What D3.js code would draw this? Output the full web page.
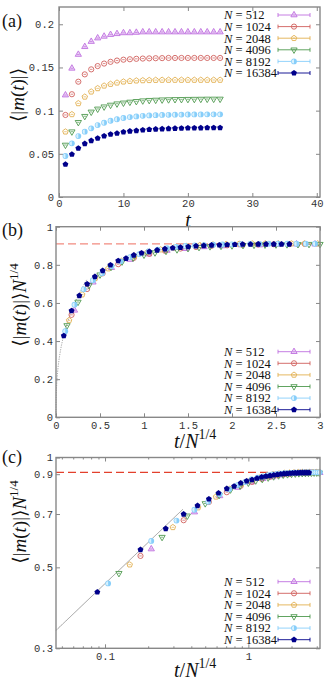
<!DOCTYPE html>
<html>
<head>
<meta charset="utf-8">
<script src="https://cdn.jsdelivr.net/npm/d3@7"></script>
<style>
  body { margin: 0; background: #fff; }
  .tick text { font-family: "Liberation Mono", "DejaVu Sans Mono", monospace; font-size: 10.5px; fill: #333; }
  .serif { font-family: "Liberation Serif", "DejaVu Serif", serif; fill: #111; }
</style>
</head>
<body>
<svg id="chart" width="332" height="687"></svg>
<script>
// ---- data ----
// system sizes and time steps
var sizes = [512, 1024, 2048, 4096, 8192, 16384];
var timeSteps = [1, 2, 3, 4, 5, 6, 7, 8, 9, 10, 11, 12, 13, 14, 15,
                 16, 17, 18, 19, 20, 21, 22, 23, 24, 25, 26, 27, 28, 29, 30];
var lastStepA = 25; // panel (a) only shows t <= 25

// <|m(t)|> for each N, t = 1..30
var m512   = [0.118, 0.149, 0.165, 0.174, 0.180, 0.184, 0.186, 0.188, 0.189, 0.190,
              0.190, 0.1905, 0.191, 0.191, 0.191, 0.191, 0.191, 0.191, 0.191, 0.191,
              0.191, 0.191, 0.191, 0.191, 0.191, 0.191, 0.191, 0.191, 0.191, 0.191];
var m1024  = [0.095, 0.119, 0.1335, 0.142, 0.1478, 0.1516, 0.1545, 0.1565, 0.158, 0.159,
              0.1595, 0.160, 0.1603, 0.1605, 0.1607, 0.1608, 0.161, 0.161, 0.161, 0.161,
              0.161, 0.161, 0.161, 0.161, 0.161, 0.161, 0.161, 0.161, 0.161, 0.161];
var m2048  = [0.0756, 0.0957, 0.1084, 0.116, 0.1219, 0.1258, 0.1288, 0.1308, 0.1323, 0.1335,
              0.1342, 0.1347, 0.135, 0.1352, 0.1354, 0.1355, 0.1355, 0.1355, 0.1355, 0.1355,
              0.1355, 0.1355, 0.1355, 0.1355, 0.1355, 0.1355, 0.1355, 0.1355, 0.1355, 0.1355];
var m4096  = [0.0602, 0.0756, 0.0865, 0.0935, 0.0985, 0.102, 0.1045, 0.1065, 0.108, 0.109,
              0.110, 0.1108, 0.1115, 0.112, 0.1123, 0.1126, 0.1128, 0.113, 0.1131, 0.1132,
              0.1133, 0.1134, 0.1135, 0.1135, 0.1135, 0.1135, 0.1135, 0.1135, 0.1135, 0.1135];
var m8192  = [0.0475, 0.0621, 0.0706, 0.0756, 0.0795, 0.0833, 0.086, 0.0883, 0.090, 0.0915,
              0.0925, 0.0933, 0.094, 0.0945, 0.0948, 0.095, 0.0952, 0.0953, 0.0954, 0.0955,
              0.0956, 0.0956, 0.0957, 0.0957, 0.0957, 0.0957, 0.0957, 0.0957, 0.0957, 0.0957];
var m16384 = [0.0378, 0.0494, 0.0564, 0.0618, 0.0652, 0.068, 0.0706, 0.0726, 0.0737, 0.0752,
              0.0762, 0.0768, 0.0775, 0.0781, 0.0785, 0.0788, 0.0791, 0.0794, 0.0796, 0.0798,
              0.0799, 0.080, 0.0801, 0.0802, 0.0802, 0.0803, 0.0803, 0.0803, 0.0803, 0.0803];
var mSeries = [m512, m1024, m2048, m4096, m8192, m16384];

// plateau value and short-time power-law fit
var plateau = 0.91;
var fitAmp = 1.07, fitExp = 0.375, fitEnd = 0.35;

// tick values
var xTicksA = [0, 10, 20, 30, 40];
var yTicksA = [0, 0.05, 0.1, 0.15, 0.2];
var xTicksB = [0, 0.5, 1, 1.5, 2, 2.5, 3];
var yTicksB = [0, 0.2, 0.4, 0.6, 0.8, 1];
var xTicksC = [0.1, 1];
var xMinorC = [0.05, 0.06, 0.07, 0.08, 0.09, 0.2, 0.3, 0.4, 0.5, 0.6, 0.7, 0.8, 0.9, 2, 3];
var yTicksC = [0.3, 0.5, 0.7, 0.9, 1];

// ---- styles ----
var colors = ["#c070e0", "#d0605c", "#e2b050", "#4f9a4f", "#87cefa", "#00008b"];
var shapes = ["triUp", "circle", "pentagon", "triDown", "halfCircle", "pentagonFill"];
var frameColor = "#888";

var svg = d3.select("#chart");

// one list of points per N: x = t, y = <|m|>
var series = sizes.map(function (n, i) {
    var q = Math.pow(n, 0.25);
    return timeSteps.map(function (t, j) {
        return { t: t, m: mSeries[i][j], q: q };
    });
});

function pentagonPath(r) {
    var pts = d3.range(5).map(function (k) {
        var a = -Math.PI / 2 + k * 2 * Math.PI / 5;
        return [r * Math.cos(a), r * Math.sin(a)];
    });
    return "M" + pts.join("L") + "Z";
}

// draw one marker centred on (0,0) into group g
function drawMarker(g, i) {
    var c = colors[i];
    var kind = shapes[i];
    if (kind === "triUp" || kind === "triDown") {
        g.append("path")
            .attr("d", d3.symbol(d3.symbolTriangle, 17)())
            .attr("transform", kind === "triDown" ? "rotate(180)" : null)
            .attr("fill", kind === "triUp" ? "#ecd4f6" : "none")
            .attr("stroke", c).attr("stroke-width", 0.9);
    } else if (kind === "circle") {
        g.append("circle").attr("r", 2.6)
            .attr("fill", "none").attr("stroke", c).attr("stroke-width", 0.9);
    } else if (kind === "pentagon") {
        g.append("path").attr("d", pentagonPath(2.9))
            .attr("fill", "none").attr("stroke", c).attr("stroke-width", 0.9);
    } else if (kind === "halfCircle") {
        g.append("circle").attr("r", 2.9).attr("fill", c);
        g.append("path").attr("d", "M0,-2.2A2.2,2.2 0 0 0 0,2.2Z").attr("fill", "#d8f1fd");
    } else {
        g.append("path").attr("d", pentagonPath(3.1)).attr("fill", c);
    }
    // tiny error-bar cap
    if (kind !== "pentagonFill" && kind !== "halfCircle") {
        g.append("line").attr("x1", -1.3).attr("x2", 1.3)
            .attr("stroke", c).attr("stroke-width", 0.7);
    }
}

function drawPanel(p) {
    var g = svg.append("g");
    var x = p.x, y = p.y;
    var x0 = x.range()[0], x1 = x.range()[1], y0 = y.range()[0], y1 = y.range()[1];

    // axes with inward ticks on all four sides
    function fmt(d) { return d3.format("~g")(d); }
    g.append("g").attr("transform", "translate(0," + y0 + ")")
        .call(d3.axisBottom(x).tickValues(p.xTicks).tickSize(-4).tickPadding(p.xPad).tickFormat(fmt));
    g.append("g").attr("transform", "translate(0," + y1 + ")")
        .call(d3.axisTop(x).tickValues(p.xTicks).tickSize(-4).tickFormat(""));
    g.append("g").attr("transform", "translate(" + x0 + ",0)")
        .call(d3.axisLeft(y).tickValues(p.yTicks).tickSize(-4).tickPadding(p.yPad).tickFormat(fmt));
    g.append("g").attr("transform", "translate(" + x1 + ",0)")
        .call(d3.axisRight(y).tickValues(p.yTicks).tickSize(-4).tickFormat(""));
    if (p.xMinor) {
        g.append("g").attr("transform", "translate(0," + y0 + ")")
            .call(d3.axisBottom(x).tickValues(p.xMinor).tickSize(-2).tickFormat(""));
        g.append("g").attr("transform", "translate(0," + y1 + ")")
            .call(d3.axisTop(x).tickValues(p.xMinor).tickSize(-2).tickFormat(""));
    }
    g.selectAll(".domain").remove();
    g.selectAll(".tick line").attr("stroke", frameColor);

    // plateau line
    if (p.plateau) {
        g.append("line")
            .attr("x1", x0).attr("x2", x1)
            .attr("y1", y(plateau)).attr("y2", y(plateau))
            .attr("stroke", p.plateauColor).attr("stroke-width", 1.3)
            .attr("stroke-dasharray", "8,4");
    }

    // power-law fit
    if (p.fit) {
        var xs = d3.range(0, 201).map(function (k) {
            var lo = x.domain()[0];
            return lo + (fitEnd - lo) * Math.pow(k / 200, 2);
        });
        g.append("path")
            .datum(xs)
            .attr("d", d3.line()
                .x(function (d) { return x(d); })
                .y(function (d) { return y(fitAmp * Math.pow(d, fitExp)); }))
            .attr("fill", "none")
            .attr("stroke", "#777").attr("stroke-width", 0.7)
            .attr("stroke-dasharray", p.fitDash);
    }

    // data markers
    series.forEach(function (pts, i) {
        var vis = pts.filter(p.keep);
        g.append("g").selectAll("g")
            .data(vis)
            .join("g")
            .attr("transform", function (d) { return "translate(" + x(p.px(d)) + "," + y(p.py(d)) + ")"; })
            .each(function () { drawMarker(d3.select(this), i); });
    });

    // frame
    g.append("rect")
        .attr("x", x0).attr("y", y1)
        .attr("width", x1 - x0).attr("height", y0 - y1)
        .attr("fill", "none").attr("stroke", frameColor).attr("stroke-width", 1.4);

    // legend
    sizes.forEach(function (n, i) {
        var ly = p.legendY + i * 11.6;
        var t = g.append("text").attr("class", "serif")
            .attr("x", 224).attr("y", ly).attr("dy", "0.35em")
            .style("font-size", "12.5px");
        t.append("tspan").style("font-style", "italic").text("N");
        t.append("tspan").text(" = " + n);
        var lg = g.append("g").attr("stroke", colors[i]).attr("stroke-width", 0.9);
        lg.append("line").attr("x1", 278).attr("x2", 310).attr("y1", ly).attr("y2", ly);
        lg.append("line").attr("x1", 278).attr("x2", 278).attr("y1", ly - 2).attr("y2", ly + 2);
        lg.append("line").attr("x1", 310).attr("x2", 310).attr("y1", ly - 2).attr("y2", ly + 2);
        var mg = g.append("g").attr("transform", "translate(294," + ly + ")");
        drawMarker(mg, i);
    });

    // panel label
    svg.append("text").attr("class", "serif")
        .attr("x", 2).attr("y", p.labelY)
        .style("font-size", "18px").text(p.label);
}

function yTitle(xPos, yPos, scaled) {
    var t = svg.append("text").attr("class", "serif")
        .attr("transform", "translate(" + xPos + "," + yPos + ") rotate(-90)")
        .attr("text-anchor", "middle")
        .style("font-size", "19px");
    t.append("tspan").text("\u27E8|");
    t.append("tspan").style("font-style", "italic").text("m");
    t.append("tspan").text("(");
    t.append("tspan").style("font-style", "italic").text("t");
    t.append("tspan").text(")|\u27E9");
    if (scaled) {
        t.append("tspan").style("font-style", "italic").text("N");
        t.append("tspan").attr("dy", -8).style("font-size", "13px").text("1/4");
    }
}

function xTitleScaled(xPos, yPos) {
    var t = svg.append("text").attr("class", "serif")
        .attr("x", xPos).attr("y", yPos)
        .style("font-size", "20px");
    t.append("tspan").style("font-style", "italic").text("t");
    t.append("tspan").text("/");
    t.append("tspan").style("font-style", "italic").text("N");
    t.append("tspan").attr("dy", -9).style("font-size", "14px").text("1/4");
}

// ---- panel (a) ----
drawPanel({
    x: d3.scaleLinear().domain([0, 40.5]).range([59, 320]),
    y: d3.scaleLinear().domain([0, 0.22]).range([197, 7]),
    xTicks: xTicksA, yTicks: yTicksA, xPad: 3, yPad: 5,
    keep: function (d) { return d.t <= lastStepA; },
    px: function (d) { return d.t; },
    py: function (d) { return d.m; },
    legendY: 15, label: "(a)", labelY: 27
});
yTitle(24, 95, false);
svg.append("text").attr("class", "serif")
    .attr("x", 188).attr("y", 227).attr("text-anchor", "middle")
    .style("font-size", "20px").style("font-style", "italic").text("t");

// ---- panel (b) ----
drawPanel({
    x: d3.scaleLinear().domain([0, 3]).range([56, 320]),
    y: d3.scaleLinear().domain([0, 1]).range([417.3, 226.7]),
    xTicks: xTicksB, yTicks: yTicksB, xPad: 4, yPad: 3,
    keep: function (d) { return d.t / d.q <= 3.001; },
    px: function (d) { return d.t / d.q; },
    py: function (d) { return d.m * d.q; },
    plateau: true, plateauColor: "#f28b80",
    fit: true, fitDash: "1.2,1.2",
    legendY: 351.7, label: "(b)", labelY: 236
});
yTitle(26, 305, true);
xTitleScaled(174, 448);

// ---- panel (c) ----
drawPanel({
    x: d3.scaleLog().domain([0.0455, 3.16]).range([56, 320]),
    y: d3.scaleLog().domain([0.3, 1]).range([648.3, 457.5]),
    xTicks: xTicksC, xMinor: xMinorC, yTicks: yTicksC, xPad: 4, yPad: 3,
    keep: function (d) { return d.t / d.q <= 3.16; },
    px: function (d) { return d.t / d.q; },
    py: function (d) { return d.m * d.q; },
    plateau: true, plateauColor: "#e3402c",
    fit: true, fitDash: null,
    legendY: 581.7, label: "(c)", labelY: 463
});
yTitle(26, 522, true);
xTitleScaled(174, 677);
</script>
</body>
</html>
